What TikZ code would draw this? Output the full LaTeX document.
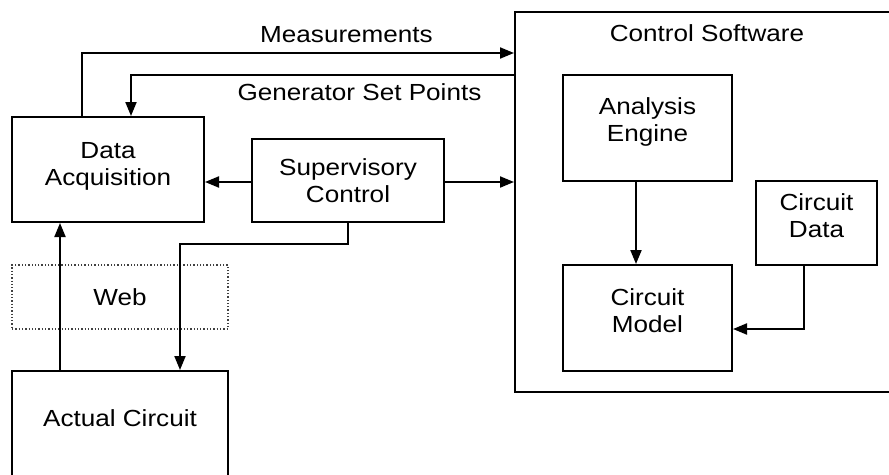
\documentclass[tikz,border=0pt]{standalone}
\usepackage{fontspec}
\setmainfont[FakeStretch=1.12]{Liberation Sans}
\usetikzlibrary{arrows.meta}

\begin{document}
\begin{tikzpicture}[x=1pt, y=-1pt,
        box/.style={draw, line width=2pt, inner sep=0pt},
        arr/.style={-{Triangle[length=14pt,width=11pt]}, line width=2pt},
        font=\fontsize{23.3}{27}\selectfont]
        \useasboundingbox (0,0) rectangle (889,474);
        \clip (0,0) rectangle (889,474);

        \node[box, minimum width=384pt, minimum height=380pt, label={[yshift=169pt]center:Control Software}] (csw) at (707,202) {};
        \node[box, minimum width=192pt, minimum height=105pt, label={[align=center, yshift=3pt]center:Data\\Acquisition}] (daq) at (108,169.5) {};
        \node[box, minimum width=192pt, minimum height=83pt, align=center] (sup) at (348,180.5) {Supervisory\\Control};
        \node[box, minimum width=169pt, minimum height=106pt, label={[align=center, yshift=6pt]center:Analysis\\Engine}] (ana) at (647.5,128) {};
        \node[box, minimum width=121pt, minimum height=84pt, label={[align=center, yshift=7pt]center:Circuit\\Data}] (cdat) at (816.5,223) {};
        \node[box, minimum width=169pt, minimum height=106pt, label={[align=center, yshift=7pt]center:Circuit\\Model}] (mod) at (647.5,318) {};
        \node[draw=black!75, dotted, line width=1.3pt, minimum width=216pt, minimum height=64pt] (web) at (120,297) {Web};
        \node[box, minimum width=216pt, minimum height=119pt, label={[yshift=12.5pt]center:Actual Circuit}] (act) at (120,430.5) {};

        \node (meas) at (346.5,35) {Measurements};
        \node (gsp) at (359.5,92) {Generator Set Points};

        \coordinate (bend) at (180,244);

        \draw[arr] ([xshift=71pt]daq.north west) |- (csw.west |- 0,53);
        \draw[arr] (csw.west |- 0,75) -| ([xshift=120pt]daq.north west);
        \draw[arr] (sup.west |- 0,182) -- (daq.east |- 0,182);
        \draw[arr] (sup.east |- 0,182) -- (csw.west |- 0,182);
        \draw[arr] (sup.south) |- (bend) -- (bend |- act.north);
        \draw[arr] (act.north -| 60,0) -- (daq.south -| 60,0);
        \draw[arr] (ana.south -| 636,0) -- (mod.north -| 636,0);
        \draw[arr] (cdat.south -| 804,0) |- (mod.east |- 0,329);
    \end{tikzpicture}
\end{document}
